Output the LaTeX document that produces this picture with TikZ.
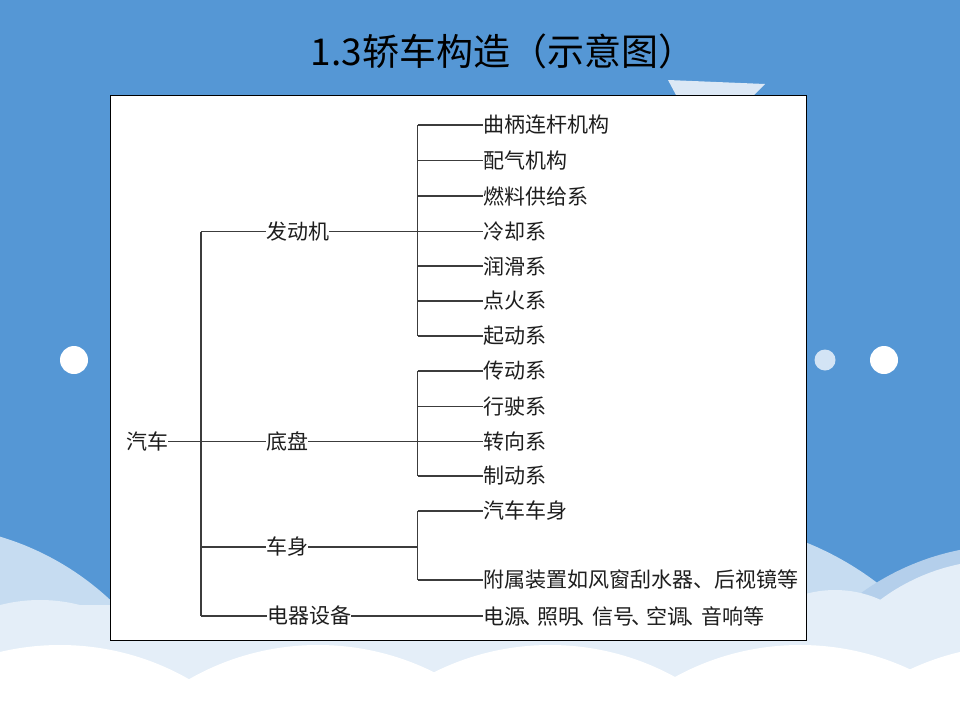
\documentclass[tikz,border=0pt]{standalone}
\usepackage{fontspec}
\setmainfont{Noto Sans CJK SC}
\definecolor{bgblue}{HTML}{5597D5}
\definecolor{cloudA}{HTML}{C6DCF1}
\definecolor{cloudB}{HTML}{B4CFEB}
\definecolor{cloudC}{HTML}{E4EEF8}
\definecolor{dotblue}{HTML}{D3E4F5}
\definecolor{planec}{HTML}{DCE8F5}
\definecolor{txt}{HTML}{1E1E1E}
\definecolor{ln}{HTML}{3C3C3C}
\newcommand{\dun}{\kern-3pt、\kern-5.5pt}
\begin{document}
\begin{tikzpicture}[x=1pt,y=-1pt,
  lbl/.style={anchor=west,inner sep=0pt,font=\fontsize{21}{21}\selectfont,text=txt},
  conn/.style={draw=ln,line width=1.1pt}]
\useasboundingbox (0,0) rectangle (960,720);
% background
\fill[bgblue] (0,0) rectangle (960,720);
\begin{scope}
\clip (0,0) rectangle (960,720);
% cloud layer A
\fill[cloudA] (-80,804) circle (279);
\fill[cloudA] (690,830) circle (310);
\fill[cloudB] (1010,800) circle (255);
% cloud layer C
\fill[cloudC] (40,760) circle (160);
\fill[cloudC] (835,700) circle (110);
\fill[cloudC] (1000,760) circle (200);
\fill[cloudC] (0,605) rectangle (960,720);
% white clouds
\foreach \cx in {60,318,550,800,1020} {\fill[white] (\cx,905) circle (260);}
\end{scope}
% dots
\fill[white] (74,360) circle (14);
\fill[dotblue] (825,360) circle (10.5);
\fill[white] (884,360) circle (14);
% paper plane
\fill[planec] (668,80) -- (765,84) -- (754,95) -- (676,95) -- cycle;
% panel
\node[draw=black,line width=1.2pt,fill=white,minimum width=696pt,minimum height=545pt,anchor=north west,inner sep=0pt] (panel) at (110,95) {};
% title
\node[inner sep=0pt,font=\fontsize{37}{37}\selectfont,text=black] (title) at (503,51) {1.3轿车构造（示意图）};
% tree nodes
\node[lbl] (car) at (126,441.5) {汽车};
\node[lbl] (eng) at (266,231.5) {发动机};
\node[lbl] (chs) at (266,441.5) {底盘};
\node[lbl] (body) at (266,547) {车身};
\node[lbl] (elec) at (267,616) {电器设备};
\node[lbl] (e1) at (483,125) {曲柄连杆机构};
\node[lbl] (e2) at (483,160.5) {配气机构};
\node[lbl] (e3) at (483,196) {燃料供给系};
\node[lbl] (e4) at (483,231.5) {冷却系};
\node[lbl] (e5) at (483,266) {润滑系};
\node[lbl] (e6) at (483,301) {点火系};
\node[lbl] (e7) at (483,336) {起动系};
\node[lbl] (c1) at (483,371) {传动系};
\node[lbl] (c2) at (483,406.5) {行驶系};
\node[lbl] (c3) at (483,441.5) {转向系};
\node[lbl] (c4) at (483,476) {制动系};
\node[lbl] (b1) at (483,511) {汽车车身};
\node[lbl] (b2) at (483,580) {附属装置如风窗刮水器、后视镜等};
\node[lbl] (el1) at (483,616) {电源\dun 照明\dun 信号\dun 空调\dun 音响等};
% junction columns
\coordinate (T) at (201,0);
\coordinate (E) at (417.5,0);
% trunk
\draw[conn] (T |- eng.west) -- (T |- elec.west);
\draw[conn] (car.east) -- (chs.west);
\draw[conn] (T |- eng.west) -- (eng.west);
\draw[conn] (T |- body.west) -- (body.west);
\draw[conn] (T |- elec.west) -- (elec.west);
% engine
\draw[conn] (eng.east) -- (e4.west);
\draw[conn] (E |- e1.west) -- (E |- e7.west);
\foreach \n in {e1,e2,e3,e5,e6,e7} {\draw[conn] (E |- \n.west) -- (\n.west);}
% chassis
\draw[conn] (chs.east) -- (c3.west);
\draw[conn] (E |- c1.west) -- (E |- c4.west);
\foreach \n in {c1,c2,c4} {\draw[conn] (E |- \n.west) -- (\n.west);}
% body
\draw[conn] (body.east) -- (E |- body.east);
\draw[conn] (E |- b1.west) -- (E |- b2.west);
\foreach \n in {b1,b2} {\draw[conn] (E |- \n.west) -- (\n.west);}
% electrical
\draw[conn] (elec.east) -- (el1.west);
\end{tikzpicture}
\end{document}
